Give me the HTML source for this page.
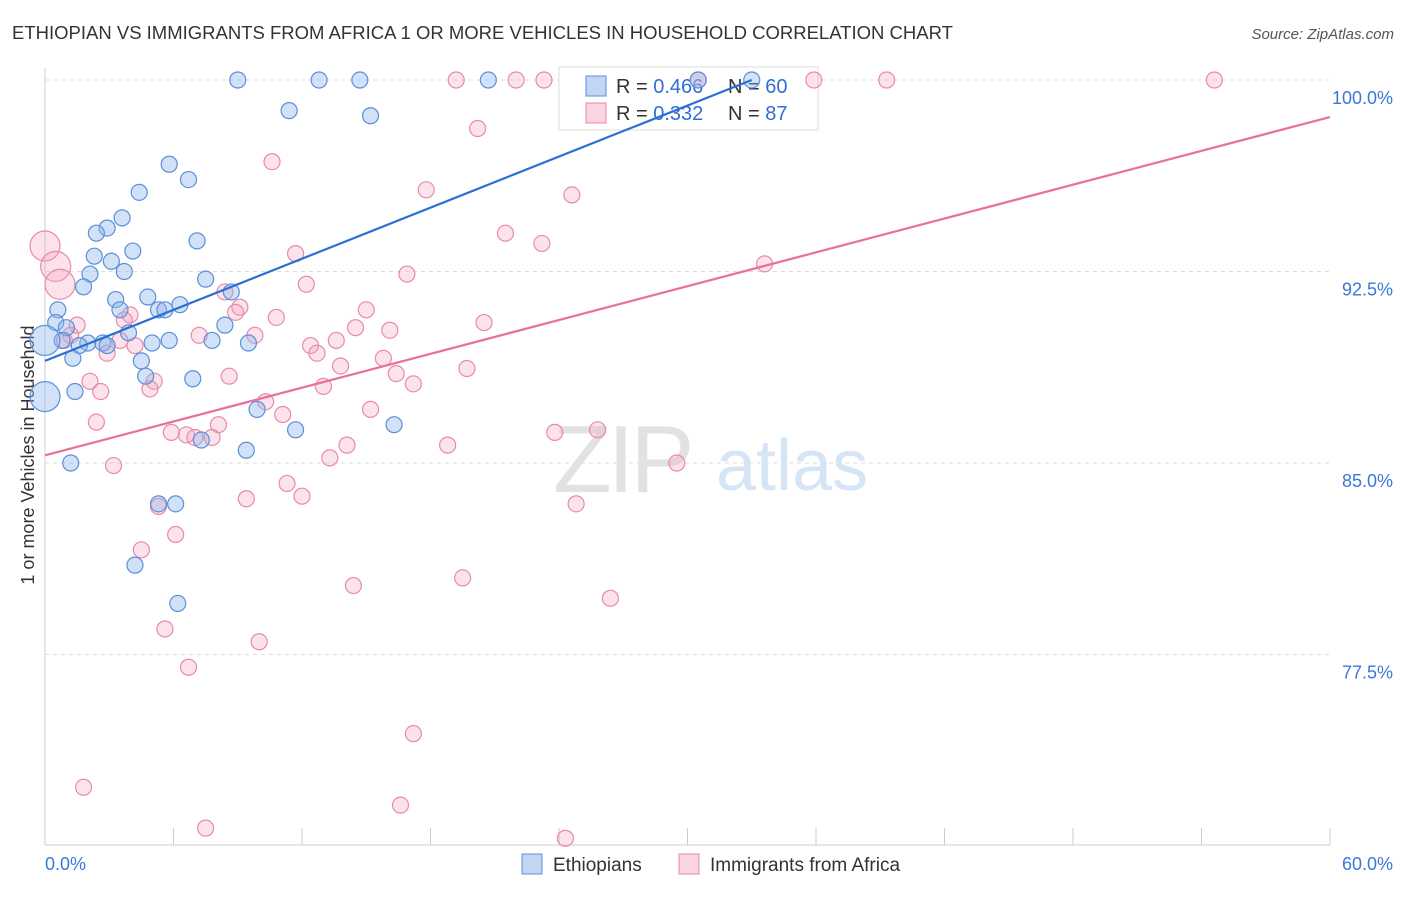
<!DOCTYPE html>
<html><head><meta charset="utf-8"><style>
body{margin:0;background:#fff;font-family:"Liberation Sans",sans-serif;}
svg text{font-family:"Liberation Sans",sans-serif;}
</style></head><body>
<svg id="chart" width="1406" height="892">
<text x="12" y="39" font-size="18.5" fill="#333">ETHIOPIAN VS IMMIGRANTS FROM AFRICA 1 OR MORE VEHICLES IN HOUSEHOLD CORRELATION CHART</text>
<text x="1394" y="39" font-size="15" fill="#555" font-style="italic" text-anchor="end">Source: ZipAtlas.com</text>
<g id="grid"></g>
<g><text x="553" y="492" font-size="96" fill="#e2e2e2" font-family="Liberation Serif" letter-spacing="-4">ZIP</text><text x="716" y="490" font-size="72" fill="#d6e5f5">atlas</text></g>
<text transform="translate(34,455) rotate(-90)" font-size="18" fill="#333" text-anchor="middle">1 or more Vehicles in Household</text>
<g>
<rect x="559" y="67" width="259" height="63" fill="#fff" stroke="#ddd"/>
<rect x="586" y="76" width="20" height="20" fill="rgba(140,180,235,0.55)" stroke="#5b8fd9"/>
<text x="616" y="93" font-size="20" fill="#333">R = <tspan fill="#2f6fd6">0.466</tspan></text>
<text x="728" y="93" font-size="20" fill="#333">N = <tspan fill="#2f6fd6">60</tspan></text>
<rect x="586" y="103" width="20" height="20" fill="rgba(244,160,190,0.45)" stroke="#e88aab"/>
<text x="616" y="120" font-size="20" fill="#333">R = <tspan fill="#2f6fd6">0.332</tspan></text>
<text x="728" y="120" font-size="20" fill="#333">N = <tspan fill="#2f6fd6">87</tspan></text>
</g>
<g id="marks"></g>
<g>
<rect x="522" y="854" width="20" height="20" fill="rgba(140,180,235,0.55)" stroke="#5b8fd9"/>
<text x="553" y="871" font-size="19" fill="#333">Ethiopians</text>
<rect x="679" y="854" width="20" height="20" fill="rgba(244,160,190,0.45)" stroke="#e88aab"/>
<text x="710" y="871" font-size="19" fill="#333">Immigrants from Africa</text>
</g>
</svg>
<script>
const yTicks=[100,92.5,85,77.5];
const yTickLabels=["100.0%","92.5%","85.0%","77.5%"];
const xTickVals=[0,6,12,18,24,30,36,42,48,54,60];
const blueX=[9.0,12.8,14.7,20.7,30.5,33.0,11.4,15.2,5.8,6.7,4.4,3.6,2.9,2.4,7.1,4.1,2.3,3.1,2.1,3.7,7.5,1.8,8.7,4.8,3.3,6.3,3.5,5.3,5.6,0.6,0.5,1.0,8.4,3.9,0.8,2.0,1.6,2.7,2.9,5.0,5.8,7.8,9.5,0.0,0.0,1.3,4.5,4.7,6.9,1.4,9.9,11.7,16.3,7.3,9.4,1.2,5.3,6.1,4.2,6.2];
const blueY=[100,100,100,100,100,100,98.8,98.6,96.7,96.1,95.6,94.6,94.2,94.0,93.7,93.3,93.1,92.9,92.4,92.5,92.2,91.9,91.7,91.5,91.4,91.2,91.0,91.0,91.0,91.0,90.5,90.3,90.4,90.1,89.8,89.7,89.6,89.7,89.6,89.7,89.8,89.8,89.7,89.8,87.6,89.1,89.0,88.4,88.3,87.8,87.1,86.3,86.5,85.9,85.5,85.0,83.4,83.4,81.0,79.5];
const blueBig=[43,44];
const pinkX=[19.2,22.0,23.3,30.5,35.9,39.3,54.6,20.2,10.6,17.8,24.6,21.5,23.2,0,11.7,0.5,16.9,33.6,0.7,12.2,8.4,9.1,15.0,10.8,8.9,3.97,3.7,1.5,20.5,14.5,16.1,1.2,7.2,9.8,3.5,13.6,0.9,12.4,4.2,2.9,12.7,15.8,13.8,19.7,8.6,16.4,2.1,5.1,4.9,13.0,17.2,2.6,10.3,11.1,15.2,2.4,8.1,5.9,6.6,7.0,7.8,23.8,25.8,14.1,18.8,13.3,29.5,3.2,11.3,12.0,9.4,24.8,5.3,6.1,4.5,19.5,14.4,26.4,5.6,10.0,6.7,17.2,1.8,16.6,7.5,24.3];
const pinkY=[100,100,100,100,100,100,100,98.1,96.8,95.7,95.5,94.0,93.6,93.5,93.2,92.7,92.4,92.8,92.0,92.0,91.7,91.1,91.0,90.7,90.9,90.8,90.6,90.4,90.5,90.3,90.2,90.0,90.0,90.0,89.8,89.8,89.8,89.6,89.6,89.3,89.3,89.1,88.8,88.7,88.4,88.5,88.2,88.2,87.9,88.0,88.1,87.8,87.4,86.9,87.1,86.6,86.5,86.2,86.1,86.0,86.0,86.2,86.3,85.7,85.7,85.2,85.0,84.9,84.2,83.7,83.6,83.4,83.3,82.2,81.6,80.5,80.2,79.7,78.5,78.0,77.0,74.4,72.3,71.6,70.7,70.3];
const pinkBig=[13,15,18];
const blueTrend=[[0,89.0],[33,100]];
const pinkTrend=[[0,85.3],[60,98.55]];

const NS="http://www.w3.org/2000/svg";
const sx=v=>45+v*1285/60;
const sy=v=>80+(100-v)*191.5/7.5;
const grid=document.getElementById('grid'), marks=document.getElementById('marks');
function mk(tag,attrs,parent){const e=document.createElementNS(NS,tag);for(const k in attrs)e.setAttribute(k,attrs[k]);parent.appendChild(e);return e;}
let ax=mk('line',{x1:45,y1:68,x2:45,y2:845,stroke:'#ccc'},grid);


let bx=mk('line',{x1:45,y1:845,x2:1330,y2:845,stroke:'#ccc'},grid);


yTicks.forEach((t,i)=>{
  const g=mk('line',{x1:45,y1:sy(t),x2:1330,y2:sy(t),stroke:'#ddd','stroke-dasharray':'4,4'},grid);
  
  
  const tx=mk('text',{x:1393,y:sy(t)+24,'font-size':18,fill:'#3a78d8','text-anchor':'end'},grid);
  tx.textContent=yTickLabels[i];
  
  
});
xTickVals.forEach(t=>{
  const l=mk('line',{x1:sx(t),y1:828,x2:sx(t),y2:845,stroke:'#ccc'},grid);
  
  
});
let xl=mk('text',{x:45,y:870,'font-size':18,fill:'#3a78d8'},grid);xl.textContent='0.0%';


let xr=mk('text',{x:1393,y:870,'font-size':18,fill:'#3a78d8','text-anchor':'end'},grid);xr.textContent='60.0%';


pinkX.forEach((x,i)=>{
  const c=mk('circle',{cx:sx(x),cy:sy(pinkY[i]),r:pinkBig.includes(i)?15:8,fill:'rgba(244,160,190,0.3)',stroke:'#e88aab','stroke-width':1.2},marks);
  
  
});
blueX.forEach((x,i)=>{
  const c=mk('circle',{cx:sx(x),cy:sy(blueY[i]),r:blueBig.includes(i)?15:8,fill:'rgba(140,180,235,0.4)',stroke:'#5b8fd9','stroke-width':1.2},marks);
  
  
});
const bt=mk('line',{x1:sx(blueTrend[0][0]),y1:sy(blueTrend[0][1]),x2:sx(blueTrend[1][0]),y2:sy(blueTrend[1][1]),stroke:'#2a6fd6','stroke-width':2.2},marks);


const pt=mk('line',{x1:sx(pinkTrend[0][0]),y1:sy(pinkTrend[0][1]),x2:sx(pinkTrend[1][0]),y2:sy(pinkTrend[1][1]),stroke:'#e8709a','stroke-width':2.2},marks);


</script>
</body></html>
